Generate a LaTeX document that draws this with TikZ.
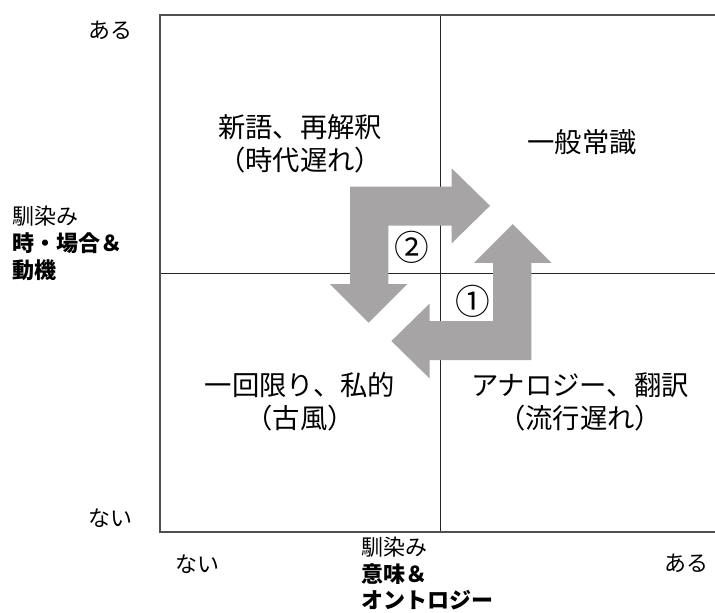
\documentclass[tikz,border=0pt]{standalone}
\usepackage{fontspec}
\setmainfont{Noto Sans CJK JP}
\definecolor{arrowgray}{HTML}{A6A4A4}
\definecolor{framegray}{HTML}{505050}
\begin{document}
\begin{tikzpicture}[x=0.75pt,y=-0.75pt,
  frame/.style={draw=framegray,line width=1.4pt},
  midline/.style={draw=black!85,line width=0.8pt},
  bigarrow/.style={fill=arrowgray,draw=none},
  quad/.style={font=\fontsize{20.5pt}{24pt}\selectfont,align=center,inner sep=0pt},
  axis/.style={font=\fontsize{16.5pt}{20pt}\selectfont,inner sep=0pt},
  axisb/.style={font=\fontsize{16.5pt}{20pt}\selectfont\bfseries,inner sep=0pt},
  numlab/.style={font=\fontsize{26pt}{30pt}\selectfont,inner sep=0pt}]
\useasboundingbox (0,0) rectangle (715,612);
% grid
\draw[midline] (440.7,15) -- (440.7,532);
\draw[midline] (160,273.4) -- (715,273.4);
\draw[frame] (715,15) -- (160,15) -- (160,532) -- (715,532);
% arrows
\path[bigarrow] (350,186.7) -- (451.7,186.7) -- (451.7,168.3) -- (490,205.8) -- (451.7,243.3) -- (451.7,225.7) -- (388.3,225.7) -- (388.3,284) -- (407.3,284) -- (368.7,322.7) -- (330,284) -- (350,284) -- cycle;
\path[bigarrow] (531.4,360.1) -- (429.7,360.1) -- (429.7,378.5) -- (391.4,341) -- (429.7,303.5) -- (429.7,321.1) -- (493.1,321.1) -- (493.1,262.8) -- (474.1,262.8) -- (512.7,224.1) -- (551.4,262.8) -- (531.4,262.8) -- cycle;
% circled numbers
\node[numlab] (n2) at (411.7,247.3) {②};
\node[numlab] (n1) at (472.7,301.7) {①};
% quadrant labels
\node[quad] (q1a) at (300,127) {新語、再解釈};
\node[quad] (q1b) at (300,160) {（時代遅れ）};
\node[quad] (q2) at (582,142) {一般常識};
\node[quad] (q3a) at (300,385) {一回限り、私的};
\node[quad] (q3b) at (300,418) {（古風）};
\node[quad] (q4a) at (580,385) {アナロジー、翻訳};
\node[quad] (q4b) at (580,418) {（流行遅れ）};
% axis labels
\node[axis] (ytop) at (110,30) {ある};
\node[axis] (ybot) at (110,518) {ない};
\node[axis,anchor=west] (yl1) at (12,216) {馴染み};
\node[axisb,anchor=west] (yl2) at (12,243) {時・場合＆};
\node[axisb,anchor=west] (yl3) at (12,270) {動機};
\node[axis] (xl) at (197,564) {ない};
\node[axis] (xr) at (686,563) {ある};
\node[axis,anchor=west] (xl1) at (361,547) {馴染み};
\node[axisb,anchor=west] (xl2) at (361,574) {意味＆};
\node[axisb,anchor=west] (xl3) at (361,600) {オントロジー};
\end{tikzpicture}
\end{document}
